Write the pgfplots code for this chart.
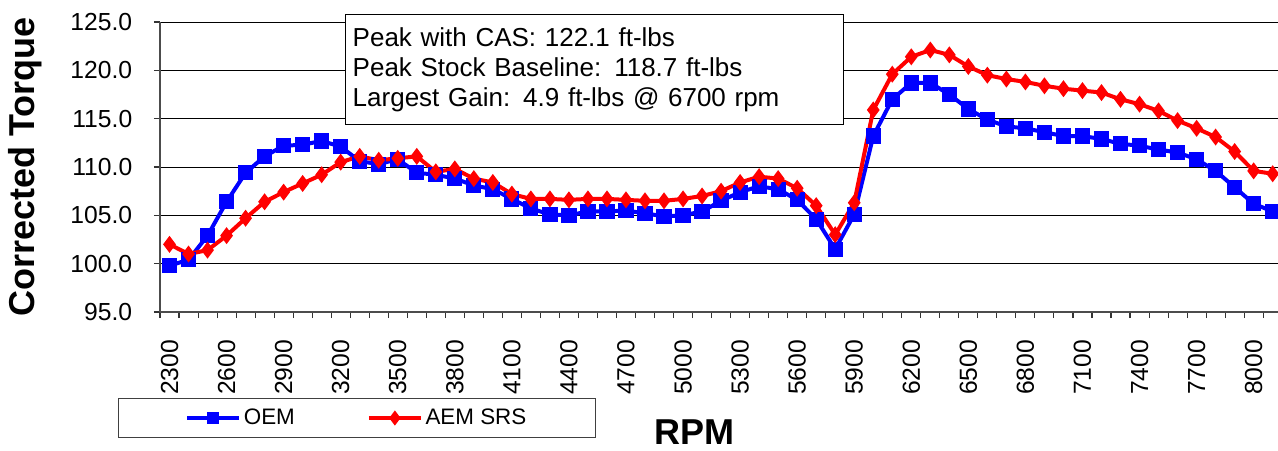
\documentclass[border=0pt]{standalone}
\usepackage{pgfplots}
\pgfplotsset{compat=1.18}
\usepackage{pgfplotstable}
\usepackage{fontspec}
\setmainfont{Liberation Sans}

% torque curves, rpm vs ft-lbs
\pgfplotstableread{
rpm oem aem
2300 99.8 102.0
2400 100.4 101.0
2500 102.9 101.4
2600 106.4 102.9
2700 109.4 104.7
2800 111.1 106.4
2900 112.2 107.4
3000 112.3 108.3
3100 112.7 109.2
3200 112.1 110.5
3300 110.6 111.1
3400 110.3 110.7
3500 110.8 110.9
3600 109.4 111.1
3700 109.2 109.5
3800 108.8 109.8
3900 108.1 108.8
4000 107.7 108.4
4100 106.7 107.2
4200 105.7 106.7
4300 105.1 106.7
4400 105.0 106.6
4500 105.4 106.7
4600 105.4 106.7
4700 105.5 106.6
4800 105.2 106.5
4900 104.9 106.5
5000 105.0 106.7
5100 105.4 107.0
5200 106.5 107.5
5300 107.4 108.4
5400 108.0 109.0
5500 107.7 108.8
5600 106.6 107.8
5700 104.6 106.0
5800 101.5 103.0
5900 105.1 106.3
6000 113.2 115.9
6100 117.0 119.6
6200 118.7 121.4
6300 118.7 122.1
6400 117.5 121.6
6500 116.0 120.4
6600 114.9 119.5
6700 114.2 119.1
6800 114.0 118.8
6900 113.6 118.4
7000 113.2 118.1
7100 113.2 117.9
7200 112.9 117.7
7300 112.4 117.0
7400 112.2 116.5
7500 111.8 115.8
7600 111.5 114.8
7700 110.8 114.0
7800 109.6 113.1
7900 107.9 111.6
8000 106.2 109.6
8100 105.4 109.3
}\torque

\begin{document}
\begin{tikzpicture}
\useasboundingbox (0,0) rectangle (958.5pt,337.5pt);
\begin{axis}[
    at={(120pt,103.5pt)}, anchor=south west,
    scale only axis,
    width=838.5pt, height=217.5pt,
    xmin=2250, xmax=8128,
    ymin=95, ymax=125,
    axis x line*=bottom, axis y line*=left,
    axis line style={-, black!70, line width=1.3pt},
    ytick={95,100,...,125},
    minor ytick={95,100,...,125},
    xtick={2300,2600,...,8000},
    minor xtick={2250,2350,...,8050},
    ymajorgrids,
    major grid style={black, line width=0.7pt},
    tick align=outside,
    major tick length=0pt,
    minor tick length=4.5pt,
    tick style={black!80, line width=0.8pt},
    yticklabel shift=17.3pt,
    xticklabel shift=17.5pt,
    yticklabel style={font=\fontsize{18.5}{18.5}\selectfont, /pgf/number format/.cd, fixed, fixed zerofill, precision=1, assume math mode=true},
    xticklabel style={rotate=90, anchor=east, font=\fontsize{18.5}{18.5}\selectfont, /pgf/number format/.cd, 1000 sep={}, assume math mode=true},
    ylabel={\textbf{Corrected Torque}},
    ylabel style={at={(rel axis cs:0,0.5)}, anchor=center, yshift=101pt, font=\fontsize{27}{27}\selectfont},
    xlabel={\textbf{RPM}},
    xlabel style={at={(rel axis cs:0.4785,0)}, anchor=base, yshift=-99pt, font=\fontsize{27}{27}\selectfont},
    legend columns=2,
    legend style={at={(rel axis cs:0,0)}, anchor=north west, xshift=-31.5pt, yshift=-64.5pt,
        draw=black!75, line width=0.8pt, inner xsep=50pt, inner ysep=6pt,
        font=\fontsize{16.8}{16.8}\selectfont,
        /tikz/every even column/.append style={column sep=52pt}},
    legend image code/.code={\draw[#1, mark size=3.2pt, mark repeat=2, mark phase=2] plot coordinates {(0pt,0pt) (19.5pt,0pt) (39pt,0pt)};},
]
\addplot[blue, line width=3pt, mark=square*, mark size=4.2pt, mark options={solid}] table[x=rpm, y=oem] {\torque};
\addlegendentry{OEM}
\addplot[red, line width=3pt, mark=diamond*, mark size=3.9pt, mark options={solid}] table[x=rpm, y=aem] {\torque};
\addlegendentry{AEM SRS}
\end{axis}
\node[draw=black, line width=1.1pt, fill=white, anchor=north west, minimum width=373.5pt, minimum height=82.5pt,
      text width=363pt, align=left, inner xsep=5.25pt, font=\fontsize{19.5}{22.5}\selectfont]
      at (258.75pt,327pt) {Peak with CAS: 122.1 ft-lbs\\Peak Stock Baseline: 118.7 ft-lbs\\Largest Gain: 4.9 ft-lbs @ 6700 rpm};
\end{tikzpicture}
\end{document}
